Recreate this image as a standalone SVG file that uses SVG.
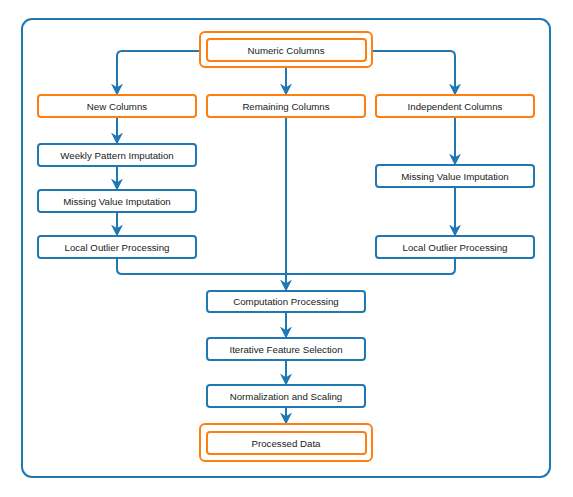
<svg xmlns="http://www.w3.org/2000/svg" width="573" height="497" viewBox="0 0 573 497">
<defs>
<marker id="ah" markerUnits="userSpaceOnUse" markerWidth="12" markerHeight="12" viewBox="0 0 10 10" refX="7" refY="5" orient="auto">
<path d="M0,0 L10,5 L0,10 L3,5 Z" fill="#1f77b4"/>
</marker>
</defs>
<style>
.frame{fill:#fff;stroke:#1f77b4;stroke-width:2}
.box{fill:#fff;stroke:#1f77b4;stroke-width:2}
.obox{fill:#fff;stroke:#ff7f0e;stroke-width:2}
.ring{fill:none;stroke:#ff7f0e;stroke-width:2}
.lbl{font-family:"Liberation Sans",Arial,sans-serif;font-size:9.7px;fill:#1a1a1a;text-anchor:middle}
.c{fill:none;stroke:#1f77b4;stroke-width:2}
.a{marker-end:url(#ah)}
</style>
<rect x="0" y="0" width="573" height="497" fill="#fff"/>
<rect class="frame" x="22" y="19" width="528" height="458" rx="10"/>
<g id="connectors">
<path class="c a" d="M200,51 H122 Q117,51 117,56 V92"/>
<path class="c a" d="M286,67 V92"/>
<path class="c a" d="M372,51 H450 Q455,51 455,56 V92"/>
<path class="c a" d="M117,117 V141"/>
<path class="c a" d="M117,166 V187"/>
<path class="c a" d="M117,212 V233"/>
<path class="c a" d="M455,117 V162"/>
<path class="c a" d="M455,187 V233"/>
<path class="c a" d="M286,117 V288"/>
<path class="c" d="M117,258 V269 Q117,274 122,274 H286"/>
<path class="c" d="M455,258 V269 Q455,274 450,274 H286"/>
<path class="c a" d="M286,312 V335"/>
<path class="c a" d="M286,360 V382"/>
<path class="c a" d="M286,407 V421"/>
</g>
<g id="numeric-columns">
<rect class="ring" x="200" y="32" width="172" height="35" rx="5"/>
<rect class="obox" x="207" y="39" width="159" height="22" rx="3"/>
<text class="lbl" x="286" y="53.5">Numeric Columns</text>
</g>
<g id="new-columns">
<rect class="obox" x="38" y="95" width="158" height="22" rx="3"/>
<text class="lbl" x="117" y="109.5">New Columns</text>
</g>
<g id="remaining-columns">
<rect class="obox" x="207" y="95" width="158" height="22" rx="3"/>
<text class="lbl" x="286" y="109.5">Remaining Columns</text>
</g>
<g id="independent-columns">
<rect class="obox" x="376" y="95" width="158" height="22" rx="3"/>
<text class="lbl" x="455" y="109.5">Independent Columns</text>
</g>
<g id="weekly-pattern-imputation">
<rect class="box" x="38" y="144" width="158" height="22" rx="3"/>
<text class="lbl" x="117" y="158.5">Weekly Pattern Imputation</text>
</g>
<g id="missing-value-imputation-left">
<rect class="box" x="38" y="190" width="158" height="22" rx="3"/>
<text class="lbl" x="117" y="204.5">Missing Value Imputation</text>
</g>
<g id="local-outlier-processing-left">
<rect class="box" x="38" y="236" width="158" height="22" rx="3"/>
<text class="lbl" x="117" y="250.5">Local Outlier Processing</text>
</g>
<g id="missing-value-imputation-right">
<rect class="box" x="376" y="165" width="158" height="22" rx="3"/>
<text class="lbl" x="455" y="179.5">Missing Value Imputation</text>
</g>
<g id="local-outlier-processing-right">
<rect class="box" x="376" y="236" width="158" height="22" rx="3"/>
<text class="lbl" x="455" y="250.5">Local Outlier Processing</text>
</g>
<g id="computation-processing">
<rect class="box" x="207" y="291" width="158" height="21" rx="3"/>
<text class="lbl" x="286" y="305">Computation Processing</text>
</g>
<g id="iterative-feature-selection">
<rect class="box" x="207" y="338" width="158" height="22" rx="3"/>
<text class="lbl" x="286" y="352.5">Iterative Feature Selection</text>
</g>
<g id="normalization-and-scaling">
<rect class="box" x="207" y="385" width="158" height="22" rx="3"/>
<text class="lbl" x="286" y="399.5">Normalization and Scaling</text>
</g>
<g id="processed-data">
<rect class="ring" x="200" y="424" width="172" height="37" rx="5"/>
<rect class="obox" x="207" y="432" width="159" height="22" rx="3"/>
<text class="lbl" x="286" y="446.5">Processed Data</text>
</g>
</svg>
